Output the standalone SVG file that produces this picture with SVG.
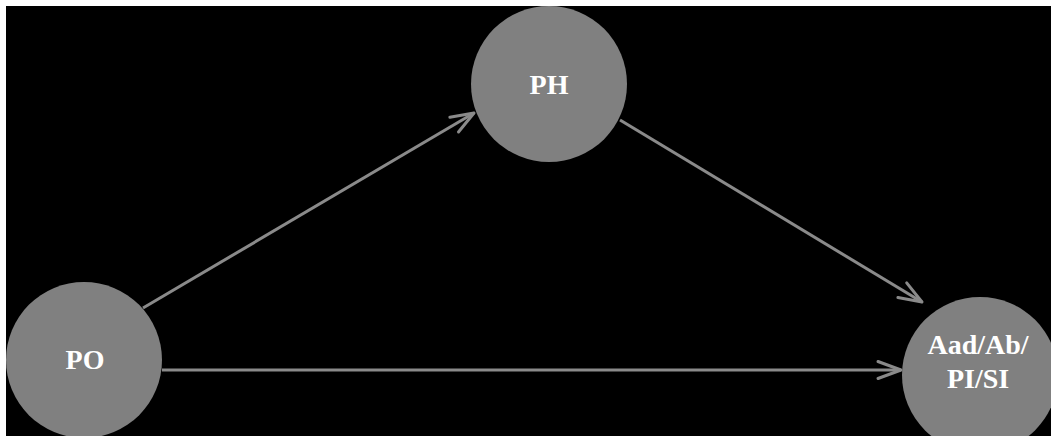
<svg xmlns="http://www.w3.org/2000/svg" width="1051" height="436" viewBox="0 0 1051 436">
<style>
.node circle{fill:#808080;}
.node text{fill:#ffffff;font-family:"Liberation Serif","Times New Roman",serif;font-weight:bold;font-size:28px;text-anchor:middle;}
.edge{stroke:#8a8a8a;stroke-width:3;fill:none;marker-end:url(#chev);}
</style>
<defs>
<marker id="chev" markerUnits="userSpaceOnUse" markerWidth="30" markerHeight="24" viewBox="-26 -12 30 24" refX="0" refY="0" orient="auto">
<path d="M-23,-8.5 L0,0 L-23,8.5" fill="none" stroke="#8a8a8a" stroke-width="3" stroke-linecap="round" stroke-linejoin="round"/>
</marker>
</defs>
<rect x="0" y="0" width="1051" height="436" fill="#ffffff"/>
<rect x="6" y="6" width="1045" height="430" fill="#000000"/>
<g id="connectors">
<line class="edge" x1="143" y1="308" x2="474" y2="113"/>
<line class="edge" x1="620" y1="120" x2="922" y2="302"/>
<line class="edge" x1="162" y1="370" x2="901" y2="370"/>
</g>
<g id="node-PH" class="node">
<circle cx="549" cy="84" r="78"/>
<text x="549" y="94">PH</text>
</g>
<g id="node-PO" class="node">
<circle cx="84" cy="360" r="78"/>
<text x="85" y="369">PO</text>
</g>
<g id="node-Aad" class="node">
<circle cx="980" cy="375" r="78"/>
<text x="978" y="354">Aad/Ab/</text>
<text x="978" y="388">PI/SI</text>
</g>
</svg>
